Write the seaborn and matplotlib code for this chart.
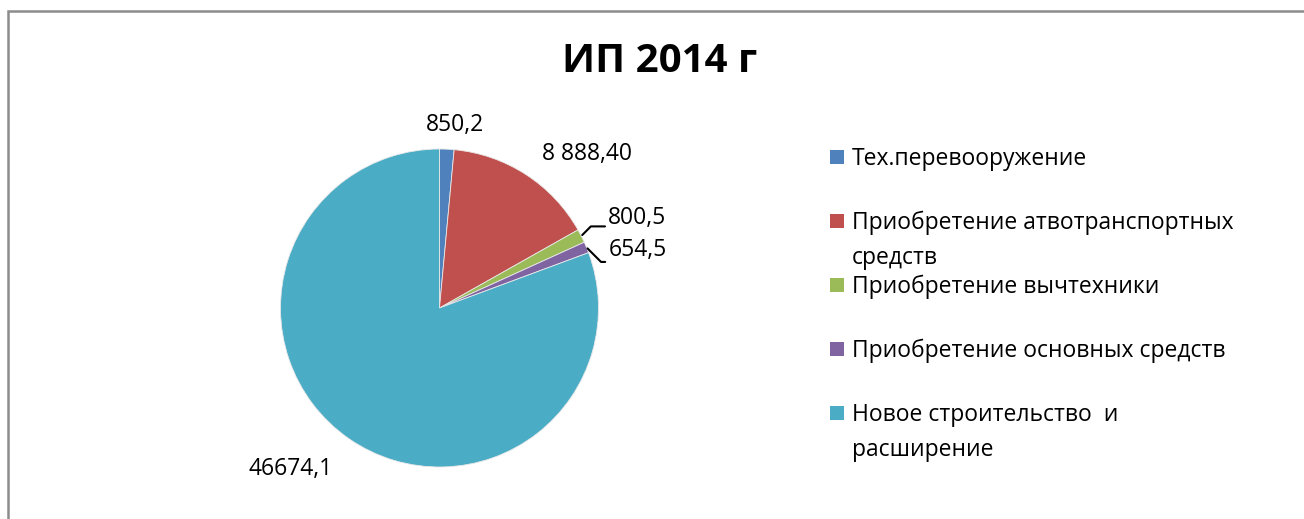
import matplotlib
matplotlib.use("Agg")
import matplotlib.pyplot as plt
import seaborn as sns
import numpy as np
from matplotlib.patches import Rectangle

sns.set_theme(style="white")
plt.rcParams['font.family'] = ['Open Sans', 'DejaVu Sans']

# ---- data ----
categories = ["Тех.перевооружение",
              "Приобретение атвотранспортных\nсредств",
              "Приобретение вычтехники",
              "Приобретение основных средств",
              "Новое строительство  и\nрасширение"]
values = [850.2, 8888.4, 800.5, 654.5, 46674.1]
value_labels = ["850,2", "8 888,40", "800,5", "654,5", "46674,1"]
colors = ["#4F81BD", "#C0504D", "#9BBB59", "#8064A2", "#4BACC6"]
title = "ИП 2014 г"

W, H = 1304, 519
fig = plt.figure(figsize=(W / 100, H / 100), dpi=100)
fig.patch.set_facecolor("white")

# outer frame (cropped on right and bottom)
fig.patches.append(Rectangle((7.5 / W, -0.05), 1.2, 1.05 - 10.5 / H,
                             transform=fig.transFigure, fill=False,
                             edgecolor="#8c8c8c", linewidth=1.8))

cx, cy, R = 439.5, 308, 159
ax = fig.add_axes([(cx - R) / W, (H - cy - R) / H, 2 * R / W, 2 * R / H])
wedges, _ = ax.pie(values, colors=colors, startangle=90, counterclock=False,
                   radius=1, wedgeprops=dict(linewidth=0.6, edgecolor="#e8e8e8"))
ax.set_xlim(-1, 1)
ax.set_ylim(-1, 1)
ax.set_aspect("equal")
ax.axis("off")

# data labels: offset (px right, px down) of label centre / left edge from wedge edge
offsets = [(8, -24), (61, -21), (27, -18), (22, 3), (-58, 30)]
leaders = [None, None, 45, -45, None]
fs = 16.5
pt = 0.72
for w, lab, (ox, oy), lead in zip(wedges, value_labels, offsets, leaders):
    ang = np.deg2rad((w.theta1 + w.theta2) / 2)
    ex, ey = np.cos(ang), np.sin(ang)
    if lead is not None:
        ax.annotate(lab, xy=(ex, ey), xytext=(ox * pt, -oy * pt),
                    textcoords="offset points", ha="left", va="center",
                    fontsize=fs, color="black", annotation_clip=False,
                    arrowprops=dict(arrowstyle="-", color="black", lw=1.5,
                                    relpos=(0, 0.15 if lead > 0 else 0.02),
                                    connectionstyle=f"angle,angleA=0,angleB={lead},rad=0",
                                    shrinkA=0, shrinkB=1))
    else:
        ax.annotate(lab, xy=(ex, ey), xytext=(ox * pt, -oy * pt),
                    textcoords="offset points", ha="center", va="center",
                    fontsize=fs, color="black", annotation_clip=False)

# title
fig.text(660 / W, 1 - 62 / H, title, ha="center", va="center",
         fontsize=29, fontweight="bold", color="black")

# legend (manual, Excel-like)
leg_x = 830 / W
y0 = 157
step = 64
sq = 14
for i, (cat, col) in enumerate(zip(categories, colors)):
    yc = y0 + i * step
    fig.patches.append(Rectangle((leg_x, 1 - (yc + sq / 2) / H), sq / W, sq / H,
                                 transform=fig.transFigure, facecolor=col,
                                 edgecolor="none"))
    fig.text(852 / W, 1 - (yc - 10) / H, cat, ha="left", va="top",
             fontsize=fs, color="black", linespacing=1.6)

fig.savefig("out.png", dpi=100, facecolor="white")
